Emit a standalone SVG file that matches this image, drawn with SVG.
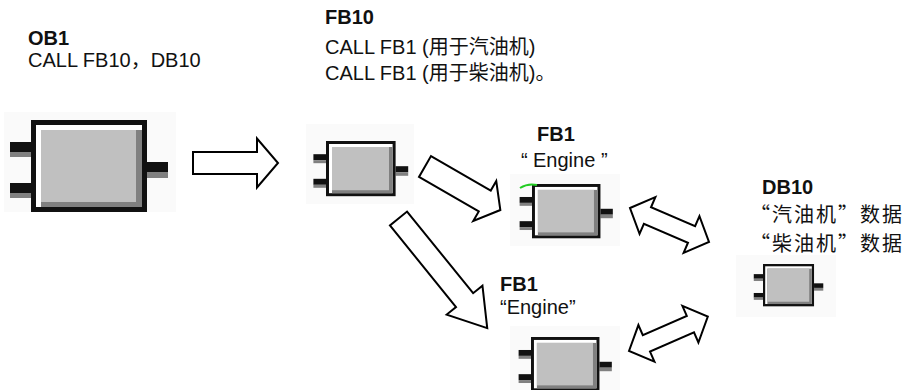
<svg xmlns="http://www.w3.org/2000/svg" width="904" height="390" viewBox="0 0 904 390">
<style>
.t{font-family:"Liberation Sans","Noto Sans CJK SC",sans-serif;font-size:20px;fill:#111}
.b{font-weight:bold}
.c{font-family:"Noto Sans CJK SC",sans-serif;font-size:20px}
.arr{fill:#fff;stroke:#000;stroke-width:2;stroke-linejoin:miter}
.bg{fill:#fafafa}
</style>
<defs>
<g id="blk">
<rect x="-21" y="22" width="21" height="10" fill="#111"/>
<rect x="-21" y="32" width="21" height="5" fill="#808080"/>
<rect x="-21" y="63" width="21" height="10" fill="#111"/>
<rect x="-21" y="73" width="21" height="5" fill="#808080"/>
<rect x="116" y="42" width="21" height="10" fill="#111"/>
<rect x="116" y="52" width="21" height="6" fill="#808080"/>
<rect x="0" y="0" width="116" height="92" fill="#111"/>
<rect x="5" y="5" width="106" height="82" fill="#fff"/>
<rect x="10" y="10" width="101" height="77" fill="#808080"/>
<rect x="10" y="10" width="95" height="72" fill="#c0c0c0"/>
</g>
<polygon id="a1" points="0,-11 64,-11 64,-24.5 85,0 64,24.5 64,11 0,11"/>
<polygon id="d1" points="0,0 19,-20 19,-9 67,-9 67,-20 86,0 67,20 67,9 19,9 19,20"/>
</defs>

<g id="OB1">
<rect class="bg" x="4" y="112" width="172" height="100"/>
<use href="#blk" transform="translate(31,120)"/>
<text class="t b" x="28" y="45">OB1</text>
<text class="t" x="28" y="67">CALL FB10，DB10</text>
</g>

<g id="FB10">
<rect class="bg" x="306" y="124" width="108" height="80"/>
<use href="#blk" transform="translate(326,141) scale(0.6)"/>
<text class="t b" x="325" y="24">FB10</text>
<text class="t" x="325" y="54">CALL FB1 (用于汽油机)</text>
<text class="t" x="325" y="80">CALL FB1 (用于柴油机)。</text>
</g>

<g id="FB1a">
<rect class="bg" x="510" y="174" width="110" height="72"/>
<use href="#blk" transform="translate(532,184) scale(0.59)"/>
<path d="M520,188 Q528,183 537,185" fill="none" stroke="#22cc22" stroke-width="2"/>
<text class="t b" x="537" y="141">FB1</text>
<text class="t" y="167"><tspan x="521">“</tspan><tspan x="533">Engine</tspan><tspan x="601">”</tspan></text>
</g>

<g id="FB1b">
<rect class="bg" x="510" y="326" width="110" height="64"/>
<use href="#blk" transform="translate(531,337) scale(0.59)"/>
<text class="t b" x="500" y="291">FB1</text>
<text class="t" x="500" y="314">“Engine”</text>
</g>

<g id="DB10">
<rect class="bg" x="736" y="255" width="100" height="62"/>
<use href="#blk" transform="translate(763,264) scale(0.44,0.46)"/>
<text class="t b" x="762" y="194">DB10</text>
<text class="t c" x="750" y="222" textLength="152" lengthAdjust="spacing">“汽油机”数据</text>
<text class="t c" x="750" y="251" textLength="152" lengthAdjust="spacing">“柴油机”数据</text>
</g>

<g id="connectors">
<use href="#a1" class="arr" transform="translate(193,163)"/>
<polygon class="arr" points="0,-12 69,-12 69,-23 87,0 69,23 69,12 0,12" transform="translate(425,166.5) rotate(30)"/>
<polygon class="arr" points="0,-11 105,-11 105,-23 141,0 105,23 105,11 0,11" transform="translate(398.5,218.5) rotate(51)"/>
<use href="#d1" class="arr" transform="translate(630,208) rotate(23.3)"/>
<use href="#d1" class="arr" transform="translate(629,351) rotate(-23.6)"/>
</g>
</svg>
